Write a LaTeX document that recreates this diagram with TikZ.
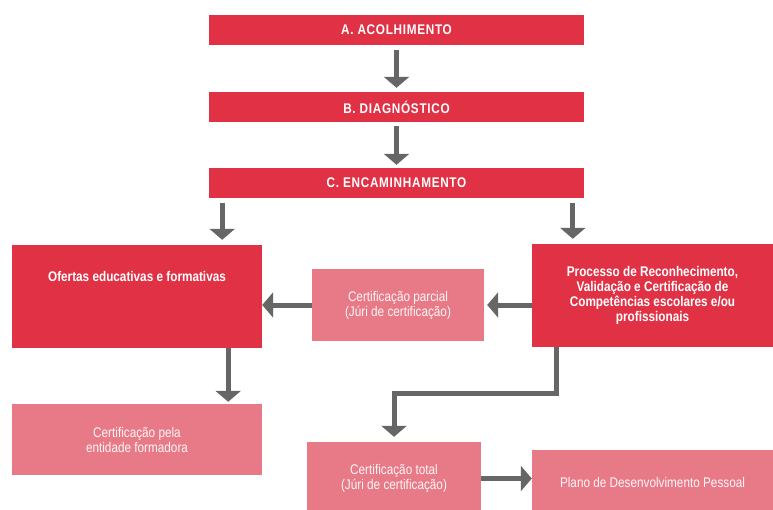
\documentclass[tikz,border=0pt]{standalone}
\usepackage{fontspec}
\setmainfont{Liberation Sans}[FakeStretch=0.84]
\usepackage{xcolor}
\usetikzlibrary{arrows.meta}
\definecolor{darkred}{HTML}{E03145}
\definecolor{lightred}{HTML}{E87A87}
\definecolor{arrowgray}{HTML}{666666}

\begin{document}
\begin{tikzpicture}[x=1pt, y=-1pt,
  darkbox/.style={fill=darkred, text=white, font=\bfseries\fontsize{14}{15}\selectfont, align=center, inner sep=0pt},
  titlebox/.style={darkbox, minimum width=375pt, minimum height=30pt, font=\bfseries\fontsize{14}{15}\selectfont\addfontfeature{LetterSpace=5}},
  lightbox/.style={fill=lightred, text=white!93!lightred, font=\fontsize{14}{15}\selectfont, align=center, inner sep=0pt},
  arr/.style={draw=arrowgray, line width=5pt, -{Triangle[width=25pt, length=11pt]}}]
  \clip (0,0) rectangle (773,509);
  \fill[white] (0,0) rectangle (773,509);
  \node[titlebox] (acolh) at (396.5,30) {A. ACOLHIMENTO};
  \node[titlebox] (diagn) at (396.5,107) {B. DIAGNÓSTICO};
  \node[titlebox] (encam) at (396.5,183) {C. ENCAMINHAMENTO};
  \node[darkbox, minimum width=250pt, minimum height=103pt] (ofertas) at (137,296.5) {};
  \node[text=white, font=\bfseries\fontsize{14}{15}\selectfont] (ofertastxt) at (137,276) {Ofertas educativas e formativas};
  \node[lightbox, minimum width=172pt, minimum height=72pt] (parcial) at (398,305) {Certificação parcial\\(Júri de certificação)};
  \node[darkbox, minimum width=241pt, minimum height=103pt] (rvcc) at (652.5,295.5) {Processo de Reconhecimento,\\Validação e Certificação de\\Competências escolares e/ou\\profissionais};
  \node[lightbox, minimum width=250pt, minimum height=71pt] (pela) at (137,439.5) {Certificação pela\\entidade formadora};
  \node[lightbox, minimum width=174pt, minimum height=73pt] (total) at (394,478.5) {Certificação total\\(Júri de certificação)};
  \node[lightbox, minimum width=241pt, minimum height=65pt] (plano) at (652.5,482.5) {Plano de Desenvolvimento Pessoal};
  \draw[arr, shorten <=5pt, shorten >=4pt] (acolh) -- (diagn);
  \draw[arr, shorten <=4pt, shorten >=3pt] (diagn) -- (encam);
  \draw[arr, shorten <=5pt, shorten >=5pt] ([xshift=-40pt]ofertas.north east |- encam.south) -- ([xshift=-40pt]ofertas.north east);
  \draw[arr, shorten <=5pt, shorten >=5pt] ([xshift=41pt]rvcc.north west |- encam.south) -- ([xshift=41pt]rvcc.north west);
  \draw[arr, shorten >=3pt] (parcial.east -| rvcc.west) -- (parcial.east);
  \draw[arr] (parcial.west) -- (parcial.west -| ofertas.east);
  \draw[arr, shorten >=2pt] ([xshift=-34pt]ofertas.south east) -- ([xshift=-34pt]pela.north east);
  \draw[arr, shorten >=5pt] ([xshift=25pt]rvcc.south west) -- ++(0,46) -| (total.north);
  \draw[arr] (total.east) -- (total.east -| plano.west);
\end{tikzpicture}
\end{document}
